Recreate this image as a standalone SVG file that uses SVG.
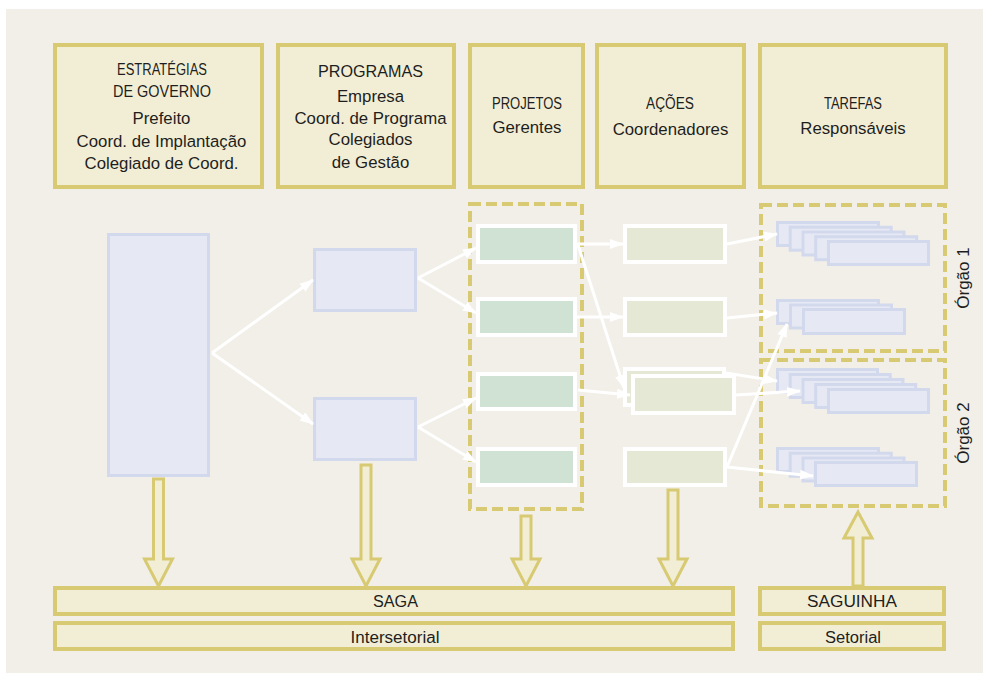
<svg xmlns="http://www.w3.org/2000/svg" width="983" height="673" viewBox="0 0 983 673">
<defs>
<style>
.hdr{fill:#f2eed5;stroke:#d8ca72;stroke-width:4}
.dash{fill:none;stroke:#d8ca72;stroke-width:4;stroke-dasharray:11 5}
.blue{fill:#e6e9f4;stroke:#d3d9ed;stroke-width:3}
.green{fill:#d0e2d4;stroke:#ffffff;stroke-width:4}
.act{fill:#e5e8d4;stroke:#ffffff;stroke-width:4}
.hollow{fill:#f2eed5;stroke:#d8ca72;stroke-width:3;stroke-linejoin:miter}
.wl{stroke:#ffffff;stroke-width:3;fill:none;marker-end:url(#ah)}
text{font-family:"Liberation Sans",Arial,sans-serif;fill:#1e1e1e;text-anchor:middle}
.t{font-size:16.8px}
.cap{font-size:16px}
.bar{font-size:16px}
</style>
<marker id="ah" viewBox="0 0 14 10" refX="13" refY="5" markerWidth="14" markerHeight="10" markerUnits="userSpaceOnUse" orient="auto">
<path d="M0,0 L14,5 L0,10 Z" fill="#ffffff"/>
</marker>
</defs>
<rect x="0" y="0" width="983" height="673" fill="#ffffff"/>
<rect x="6" y="9" width="977" height="664" fill="#f1efe7"/>

<g id="hdr-estrategias">
<rect class="hdr" x="55" y="45" width="207" height="142"/>
<text class="cap" x="162" y="75" textLength="90" lengthAdjust="spacingAndGlyphs">ESTRATÉGIAS</text>
<text class="cap" x="162" y="97" textLength="98" lengthAdjust="spacingAndGlyphs">DE GOVERNO</text>
<text class="t" x="161.5" y="124">Prefeito</text>
<text class="t" x="161.5" y="147">Coord. de Implantação</text>
<text class="t" x="161.5" y="169">Colegiado de Coord.</text>
</g>
<g id="hdr-programas">
<rect class="hdr" x="278" y="45" width="176" height="142"/>
<text class="cap" x="370.5" y="77" textLength="105" lengthAdjust="spacingAndGlyphs">PROGRAMAS</text>
<text class="t" x="370.5" y="102">Empresa</text>
<text class="t" x="370.5" y="124">Coord. de Programa</text>
<text class="t" x="370.5" y="145">Colegiados</text>
<text class="t" x="370.5" y="168">de Gestão</text>
</g>
<g id="hdr-projetos">
<rect class="hdr" x="470" y="45" width="113" height="142"/>
<text class="cap" x="527" y="109" textLength="70" lengthAdjust="spacingAndGlyphs">PROJETOS</text>
<text class="t" x="527" y="133">Gerentes</text>
</g>
<g id="hdr-acoes">
<rect class="hdr" x="597" y="45" width="147" height="142"/>
<text class="cap" x="670" y="109" textLength="48" lengthAdjust="spacingAndGlyphs">AÇÕES</text>
<text class="t" x="670.5" y="135">Coordenadores</text>
</g>
<g id="hdr-tarefas">
<rect class="hdr" x="760" y="45" width="186" height="142"/>
<text class="cap" x="853" y="109" textLength="58" lengthAdjust="spacingAndGlyphs">TAREFAS</text>
<text class="t" x="853" y="134">Responsáveis</text>
</g>

<g id="estrategia">
<rect class="blue" x="108.5" y="234.5" width="100" height="241"/>
</g>
<g id="programa-1"><rect class="blue" x="314.5" y="249.5" width="101" height="61"/></g>
<g id="programa-2"><rect class="blue" x="314.5" y="398.5" width="101" height="61"/></g>

<g id="grupo-projetos"><rect class="dash" x="470" y="204" width="112" height="305"/></g>
<g id="projeto-1"><rect class="green" x="478" y="226" width="97" height="36"/></g>
<g id="projeto-2"><rect class="green" x="478" y="299" width="97" height="36"/></g>
<g id="projeto-3"><rect class="green" x="478" y="374" width="97" height="35"/></g>
<g id="projeto-4"><rect class="green" x="478" y="449" width="97" height="36"/></g>

<g id="acao-1"><rect class="act" x="625" y="226" width="100" height="36"/></g>
<g id="acao-2"><rect class="act" x="625" y="299" width="100" height="36"/></g>
<g id="acao-3">
<rect class="act" x="625" y="369" width="99" height="36"/>
<rect class="act" x="633" y="376" width="101" height="37"/>
</g>
<g id="acao-4"><rect class="act" x="625" y="449" width="100" height="36"/></g>

<g id="orgao-1">
<rect class="dash" x="761" y="205" width="184" height="146"/>
<text x="969" y="278" style="font-size:17px" transform="rotate(-90 969 278)">Órgão 1</text>
</g>
<g id="orgao-2">
<rect class="dash" x="761" y="360" width="184" height="146"/>
<text x="969" y="433" style="font-size:17px" transform="rotate(-90 969 433)">Órgão 2</text>
</g>

<g id="tarefas-1">
<rect class="blue" x="777.5" y="222.5" width="101" height="23"/>
<rect class="blue" x="790.2" y="227.2" width="101" height="23"/>
<rect class="blue" x="803" y="232" width="101" height="23"/>
<rect class="blue" x="815.7" y="236.7" width="101" height="23"/>
<rect class="blue" x="828.5" y="241.5" width="100" height="23"/>
</g>
<g id="tarefas-2">
<rect class="blue" x="777.5" y="300.5" width="101" height="23"/>
<rect class="blue" x="790.5" y="305" width="101" height="23"/>
<rect class="blue" x="803.5" y="309.5" width="101" height="24"/>
</g>
<g id="tarefas-3">
<rect class="blue" x="777.5" y="369.5" width="100" height="23"/>
<rect class="blue" x="790.2" y="374.5" width="100" height="23"/>
<rect class="blue" x="803" y="379.5" width="100" height="23"/>
<rect class="blue" x="815.7" y="384.5" width="100" height="23"/>
<rect class="blue" x="828.5" y="389.5" width="100" height="23"/>
</g>
<g id="tarefas-4">
<rect class="blue" x="777.5" y="448.5" width="101" height="23"/>
<rect class="blue" x="790.2" y="453.2" width="101" height="23"/>
<rect class="blue" x="803" y="458" width="101" height="23"/>
<rect class="blue" x="815.5" y="462.5" width="101" height="23"/>
</g>

<g id="saga">
<rect class="hdr" x="55" y="588" width="678" height="26"/>
<text class="bar" x="395.5" y="607" textLength="45" lengthAdjust="spacingAndGlyphs">SAGA</text>
</g>
<g id="intersetorial">
<rect class="hdr" x="55" y="623" width="678" height="26"/>
<text class="bar" x="395" y="643" textLength="89" lengthAdjust="spacingAndGlyphs">Intersetorial</text>
</g>
<g id="saguinha">
<rect class="hdr" x="760" y="588" width="184" height="26"/>
<text class="bar" x="852" y="607" textLength="90" lengthAdjust="spacingAndGlyphs">SAGUINHA</text>
</g>
<g id="setorial">
<rect class="hdr" x="760" y="623" width="184" height="26"/>
<text class="bar" x="853" y="643" textLength="56" lengthAdjust="spacingAndGlyphs">Setorial</text>
</g>

<g id="connectors">
<line class="wl" x1="212" y1="353" x2="313" y2="280"/>
<line class="wl" x1="212" y1="353" x2="313" y2="424"/>
<line class="wl" x1="418" y1="278" x2="476" y2="248"/>
<line class="wl" x1="418" y1="278" x2="476" y2="313"/>
<line class="wl" x1="418" y1="427" x2="476" y2="398"/>
<line class="wl" x1="418" y1="427" x2="476" y2="462"/>
<line class="wl" x1="577" y1="244" x2="623" y2="244"/>
<line class="wl" x1="577" y1="317" x2="623" y2="317"/>
<line class="wl" x1="578" y1="390" x2="630" y2="395"/>
<line class="wl" x1="578" y1="245" x2="624" y2="388"/>
<line class="wl" x1="727" y1="244" x2="777" y2="234"/>
<line class="wl" x1="727" y1="318" x2="777" y2="313"/>
<line class="wl" x1="726" y1="373" x2="777" y2="381"/>
<line class="wl" x1="736" y1="395" x2="800" y2="391"/>
<line class="wl" x1="727" y1="467" x2="813" y2="476"/>
<line class="wl" x1="727" y1="467" x2="787" y2="324"/>
<path class="hollow" d="M153.5,479 H163.5 V559 H172.5 L158.5,586 L144.5,559 H153.5 Z"/>
<path class="hollow" d="M361,465 H371 V559 H380 L366,586 L352,559 H361 Z"/>
<path class="hollow" d="M521,516 H531 V559 H540 L526,586 L512,559 H521 Z"/>
<path class="hollow" d="M668,490 H678 V559 H687 L673,586 L659,559 H668 Z"/>
<path class="hollow" d="M853,586 H863 V538 H872 L858,512 L844,538 H853 Z"/>
</g>
</svg>
